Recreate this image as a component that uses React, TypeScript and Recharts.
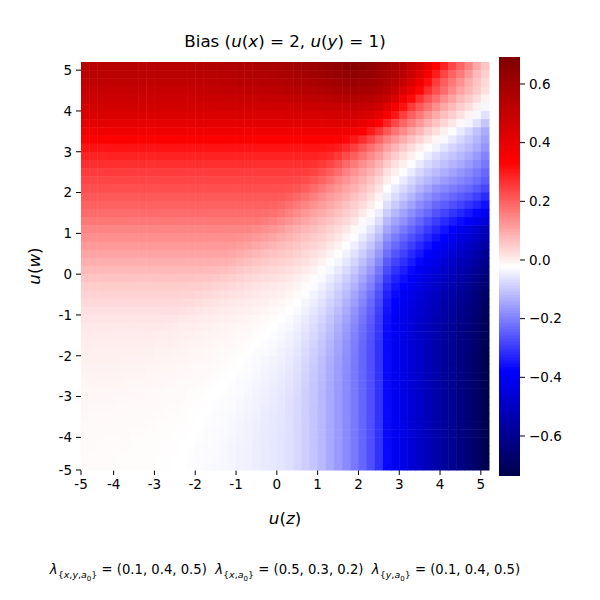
import React from 'react';
import { ScatterChart, Scatter, XAxis, YAxis } from 'recharts';

// left edges of the u(z) cells
const uZ = [
  -4.8, -4.6, -4.4, -4.2, -4.0, -3.8, -3.6, -3.4, -3.2, -3.0,
  -2.8, -2.6, -2.4, -2.2, -2.0, -1.8, -1.6, -1.4, -1.2, -1.0,
  -0.8, -0.6, -0.4, -0.2, 0.0, 0.2, 0.4, 0.6, 0.8, 1.0,
  1.2, 1.4, 1.6, 1.8, 2.0, 2.2, 2.4, 2.6, 2.8, 3.0,
  3.2, 3.4, 3.6, 3.8, 4.0, 4.2, 4.4, 4.6, 4.8, 5.0,
];
// lower edges of the u(w) cells, top row first
const uW = [
  5.0, 4.8, 4.6, 4.4, 4.2, 4.0, 3.8, 3.6, 3.4, 3.2,
  3.0, 2.8, 2.6, 2.4, 2.2, 2.0, 1.8, 1.6, 1.4, 1.2,
  1.0, 0.8, 0.6, 0.4, 0.2, 0.0, -0.2, -0.4, -0.6, -0.8,
  -1.0, -1.2, -1.4, -1.6, -1.8, -2.0, -2.2, -2.4, -2.6, -2.8,
  -3.0, -3.2, -3.4, -3.6, -3.8, -4.0, -4.2, -4.4, -4.6, -4.8,
];
const STEP = 0.2;

const axisTicks = [-4.8, -4, -3, -2, -1, 0, 1, 2, 3, 4, 5];
const axisTickLabels = ['-5', '-4', '-3', '-2', '-1', '0', '1', '2', '3', '4', '5'];
const barTicks = [0.6, 0.4, 0.2, 0, -0.2, -0.4, -0.6];
const vMin = -0.733;
const vMax = 0.692;

// bias x 1000, one row per u(w) band (row name = lower edge of band)
const w5_0 = [535,535,535,535,535,535,535,535,535,535,535,535,535,535,542,544,547,551,555,559,562,567,571,577,582,589,596,604,613,624,636,650,663,670,663,650,630,603,575,555,507,459,406,340,287,236,194,152,101,61];
const w4_8 = [525,525,525,525,525,525,525,525,525,525,525,525,525,525,531,533,536,539,543,546,549,553,557,562,567,573,579,586,595,604,615,627,639,645,639,627,609,585,561,533,484,422,361,297,242,198,164,122,77,48];
const w4_6 = [512,512,512,512,512,512,512,512,512,512,512,512,512,512,517,519,521,525,528,530,533,537,540,545,549,554,559,566,573,581,591,601,612,617,612,601,586,565,535,500,439,374,315,253,206,170,133,96,64,34];
const w4_4 = [495,495,495,495,495,495,495,495,495,495,495,495,495,495,500,501,503,506,509,511,513,516,519,523,527,531,536,541,547,554,563,572,581,585,581,572,558,531,495,444,386,328,273,225,186,146,110,82,54,25];
const w4_2 = [478,478,478,478,478,478,478,478,478,478,478,478,478,478,481,483,484,486,488,489,491,493,496,498,501,504,507,511,516,521,527,533,540,543,540,533,516,486,437,379,322,266,220,181,142,107,80,55,29,-3];
const w4_0 = [458,458,458,458,458,458,458,458,458,458,458,458,458,458,460,461,462,463,464,465,466,467,469,470,472,474,476,478,481,484,488,492,496,498,496,485,463,420,367,313,258,213,176,137,103,76,51,28,-1,-33];
const w3_8 = [437,437,437,437,437,437,437,437,437,437,437,437,437,437,438,439,439,440,441,441,442,443,444,445,446,447,448,450,452,454,456,458,461,462,454,437,403,354,303,251,205,169,132,98,71,46,24,-2,-30,-63];
const w3_6 = [410,410,410,410,410,410,410,410,410,410,410,410,410,410,411,411,411,411,412,412,412,413,413,414,414,415,415,416,417,418,419,420,421,416,402,373,332,284,236,194,159,123,91,62,38,15,-10,-35,-64,-102];
const w3_4 = [375,375,375,375,375,375,375,375,375,375,375,375,375,375,375,375,375,375,375,375,376,376,376,377,377,377,377,378,378,378,379,379,374,363,337,302,263,215,175,143,108,78,50,25,1,-24,-48,-77,-107,-136];
const w3_2 = [340,340,340,340,340,340,340,340,340,340,340,340,340,340,340,340,340,340,340,340,340,340,340,340,340,340,340,340,340,340,340,335,324,302,271,237,198,157,125,94,65,38,15,-7,-30,-54,-76,-97,-122,-153];
const w3_0 = [310,310,310,310,310,310,310,310,310,310,310,310,310,310,310,310,310,310,310,310,310,310,310,310,310,310,310,310,310,310,306,296,276,248,217,183,150,114,83,55,29,5,-17,-38,-58,-80,-98,-115,-139,-168];
const w2_8 = [288,288,288,288,288,288,288,288,288,288,288,288,288,288,288,288,288,288,288,288,288,288,288,288,288,288,288,288,288,284,275,257,232,204,173,144,116,79,51,25,1,-23,-45,-69,-89,-103,-120,-138,-163,-193];
const w2_6 = [270,270,270,270,270,270,270,270,270,270,270,270,270,270,270,270,270,270,270,270,270,270,270,270,270,270,270,270,266,258,241,218,193,165,138,115,86,51,23,1,-24,-50,-73,-92,-109,-125,-140,-159,-183,-212];
const w2_4 = [253,253,253,253,253,253,253,253,253,253,253,253,253,253,253,253,253,253,253,253,253,253,253,253,253,253,253,250,242,227,206,183,157,133,111,87,60,24,0,-25,-51,-78,-97,-117,-133,-149,-167,-185,-205,-231];
const w2_2 = [240,240,240,240,240,240,240,240,240,240,240,240,240,240,240,240,240,240,240,240,240,240,240,240,240,240,237,230,216,197,175,152,130,110,88,65,38,4,-23,-49,-76,-100,-121,-141,-159,-175,-190,-204,-225,-250];
const w2_0 = [227,227,227,227,227,227,227,227,227,227,227,227,227,227,227,227,227,227,227,227,227,227,227,227,227,224,218,205,187,168,146,126,108,88,67,45,20,-19,-48,-73,-98,-124,-147,-171,-189,-203,-217,-232,-254,-279];
const w1_8 = [213,213,213,213,213,213,213,213,213,213,213,213,213,213,213,213,213,213,213,213,213,213,213,213,210,205,193,177,159,140,121,105,87,68,47,26,-2,-44,-71,-96,-123,-153,-177,-199,-216,-233,-249,-265,-288,-317];
const w1_6 = [200,200,200,200,200,200,200,200,200,200,200,200,200,200,200,200,200,200,200,200,200,200,200,197,192,181,167,151,133,117,101,85,68,49,30,7,-25,-66,-94,-122,-152,-180,-203,-228,-247,-265,-284,-304,-327,-355];
const w1_4 = [186,186,186,186,186,186,186,186,186,186,186,186,186,186,186,186,186,186,186,186,186,186,184,179,169,156,142,125,111,97,82,67,50,32,11,-15,-45,-90,-122,-151,-179,-206,-232,-259,-282,-304,-324,-344,-369,-402];
const w1_2 = [170,170,170,170,170,170,170,170,170,170,170,170,170,170,170,170,170,170,170,170,170,168,163,154,143,130,116,102,91,77,63,48,33,13,-11,-35,-68,-119,-150,-176,-206,-235,-264,-293,-316,-339,-362,-384,-414,-451];
const w1_0 = [152,152,152,152,152,152,152,152,152,152,152,152,152,152,152,152,152,152,152,152,150,146,138,127,116,104,93,82,70,58,44,30,13,-8,-30,-57,-95,-145,-177,-206,-236,-266,-295,-324,-352,-379,-407,-436,-469,-508];
const w0_8 = [137,137,137,137,137,137,137,137,137,137,137,137,137,137,137,137,137,137,137,135,132,124,115,105,94,84,76,64,54,42,29,14,-5,-25,-50,-81,-117,-172,-205,-234,-264,-291,-321,-352,-381,-409,-436,-462,-494,-533];
const w0_6 = [122,122,122,122,122,122,122,122,122,122,122,122,122,122,122,122,122,122,120,117,111,102,93,83,75,68,59,49,39,28,13,-3,-21,-43,-71,-101,-141,-199,-232,-259,-290,-319,-350,-380,-408,-434,-460,-486,-518,-560];
const w0_4 = [107,107,107,107,107,107,107,107,107,107,107,107,107,107,107,107,107,106,103,97,89,81,72,65,59,52,44,34,25,13,-3,-18,-38,-63,-90,-122,-165,-223,-258,-287,-318,-346,-375,-404,-431,-459,-486,-514,-546,-588];
const w0_2 = [92,92,92,92,92,92,92,92,92,92,92,92,92,92,92,92,91,88,83,76,69,62,55,50,44,38,30,21,11,-2,-17,-34,-56,-81,-110,-144,-186,-251,-283,-311,-341,-369,-400,-430,-459,-486,-512,-540,-573,-610];
const w0_0 = [77,77,77,77,77,77,77,77,77,77,77,77,77,77,77,76,74,69,63,57,51,45,40,35,30,24,18,8,-3,-16,-32,-51,-72,-98,-130,-163,-210,-272,-307,-336,-366,-395,-425,-454,-481,-507,-533,-559,-591,-631];
const wm0_2 = [63,63,63,63,63,63,63,63,63,63,63,63,63,63,62,60,56,51,46,41,36,31,27,23,18,13,6,-5,-15,-29,-47,-65,-88,-116,-146,-184,-228,-297,-330,-358,-388,-416,-445,-474,-501,-526,-551,-577,-609,-649];
const wm0_4 = [51,51,51,51,51,51,51,51,51,51,51,51,51,50,49,45,41,37,32,28,24,20,16,12,8,3,-5,-15,-26,-41,-59,-79,-103,-130,-164,-199,-248,-315,-349,-376,-406,-433,-463,-491,-518,-543,-568,-593,-625,-665];
const wm0_6 = [41,41,41,41,41,41,41,41,41,41,41,41,40,39,36,33,29,25,21,18,14,11,7,4,0,-6,-14,-25,-37,-52,-70,-92,-115,-146,-178,-217,-263,-330,-364,-392,-421,-448,-478,-506,-533,-557,-582,-608,-639,-680];
const wm0_8 = [32,32,32,32,32,32,32,32,32,32,32,31,30,28,25,22,18,15,12,9,6,3,0,-4,-8,-14,-22,-34,-46,-61,-82,-102,-129,-158,-193,-230,-276,-343,-377,-404,-433,-460,-489,-518,-544,-568,-593,-618,-649,-690];
const wm1_0 = [24,24,24,24,24,24,24,24,24,24,24,23,21,18,15,12,10,7,5,2,0,-3,-7,-11,-15,-21,-29,-42,-54,-71,-91,-114,-139,-171,-205,-241,-287,-351,-385,-413,-442,-469,-498,-526,-552,-577,-601,-626,-657,-698];
const wm1_2 = [17,17,17,17,17,17,17,17,17,17,16,14,12,10,7,5,3,1,-1,-4,-6,-9,-13,-16,-21,-27,-36,-49,-62,-79,-101,-123,-150,-181,-214,-250,-294,-357,-392,-419,-448,-475,-505,-533,-559,-583,-608,-633,-664,-705];
const wm1_4 = [12,12,12,12,12,12,12,12,12,11,10,8,6,4,2,0,-2,-4,-6,-8,-10,-14,-17,-21,-26,-32,-42,-55,-69,-87,-108,-132,-159,-189,-222,-256,-299,-361,-396,-423,-452,-480,-509,-537,-564,-588,-612,-638,-669,-710];
const wm1_6 = [8,8,8,8,8,8,8,8,7,6,5,3,1,-1,-2,-4,-5,-7,-9,-12,-14,-17,-21,-25,-30,-37,-47,-61,-75,-93,-116,-140,-166,-196,-227,-261,-302,-365,-399,-427,-456,-484,-513,-542,-568,-592,-617,-642,-674,-715];
const wm1_8 = [5,5,5,5,5,5,5,4,3,2,1,-1,-2,-4,-5,-7,-8,-10,-12,-15,-17,-21,-25,-29,-34,-41,-51,-66,-80,-100,-123,-146,-172,-201,-231,-263,-305,-365,-400,-428,-458,-486,-516,-545,-572,-597,-621,-647,-678,-719];
const wm2_0 = [2,2,2,2,2,2,1,1,0,-2,-3,-4,-5,-7,-8,-9,-11,-13,-15,-17,-20,-24,-28,-32,-38,-45,-56,-71,-86,-105,-128,-151,-176,-204,-234,-266,-305,-365,-400,-428,-458,-486,-516,-545,-572,-597,-622,-648,-680,-722];
const wm2_2 = [0,0,0,0,0,-1,-1,-2,-3,-4,-5,-6,-7,-9,-10,-11,-13,-15,-17,-20,-23,-26,-31,-36,-41,-49,-59,-76,-91,-110,-132,-154,-178,-206,-236,-266,-305,-365,-400,-428,-458,-486,-516,-545,-572,-597,-622,-648,-680,-722];
const wm2_4 = [-2,-2,-2,-2,-2,-3,-4,-5,-6,-7,-8,-8,-9,-11,-12,-13,-15,-17,-19,-22,-25,-29,-34,-38,-44,-52,-63,-79,-94,-114,-135,-157,-180,-208,-236,-266,-305,-365,-400,-428,-458,-486,-516,-545,-572,-597,-622,-648,-680,-722];
const wm2_6 = [-4,-4,-4,-4,-5,-6,-6,-7,-8,-9,-9,-10,-11,-12,-14,-15,-17,-19,-21,-24,-27,-32,-36,-42,-47,-55,-66,-83,-98,-116,-137,-158,-182,-208,-236,-266,-305,-365,-400,-428,-458,-486,-516,-545,-572,-597,-622,-648,-680,-722];
const wm2_8 = [-6,-6,-6,-7,-7,-8,-9,-9,-10,-10,-11,-12,-13,-14,-15,-17,-19,-21,-23,-26,-30,-34,-39,-44,-50,-58,-69,-85,-100,-118,-139,-160,-182,-208,-236,-266,-305,-365,-400,-428,-458,-486,-516,-545,-572,-597,-622,-648,-680,-722];
const wm3_0 = [-8,-8,-9,-9,-10,-10,-11,-11,-12,-12,-13,-13,-14,-16,-17,-19,-20,-22,-25,-28,-32,-37,-41,-47,-52,-60,-71,-87,-101,-119,-140,-160,-182,-208,-236,-266,-305,-365,-400,-428,-458,-486,-516,-545,-572,-597,-622,-648,-680,-722];
const wm3_2 = [-9,-9,-10,-10,-11,-11,-12,-12,-12,-13,-14,-14,-15,-17,-18,-20,-22,-24,-27,-30,-34,-38,-43,-49,-54,-62,-73,-88,-102,-120,-140,-160,-182,-208,-236,-266,-305,-365,-400,-428,-458,-486,-516,-545,-572,-597,-622,-648,-680,-722];
const wm3_4 = [-10,-11,-11,-11,-12,-12,-13,-13,-13,-14,-15,-15,-16,-18,-19,-21,-23,-25,-28,-32,-35,-40,-45,-50,-55,-63,-74,-89,-103,-120,-140,-160,-182,-208,-236,-266,-305,-365,-400,-428,-458,-486,-516,-545,-572,-597,-622,-648,-680,-722];
const wm3_6 = [-11,-12,-12,-12,-13,-13,-13,-14,-14,-15,-15,-16,-17,-19,-20,-22,-24,-26,-30,-33,-37,-42,-47,-52,-56,-64,-74,-90,-103,-120,-140,-160,-182,-208,-236,-266,-305,-365,-400,-428,-458,-486,-516,-545,-572,-597,-622,-648,-680,-722];
const wm3_8 = [-13,-13,-13,-13,-14,-14,-14,-14,-15,-16,-16,-17,-18,-19,-21,-23,-25,-28,-31,-35,-38,-43,-48,-53,-57,-64,-75,-90,-103,-120,-140,-160,-182,-208,-236,-266,-305,-365,-400,-428,-458,-486,-516,-545,-572,-597,-622,-648,-680,-722];
const wm4_0 = [-13,-14,-14,-14,-14,-14,-15,-15,-16,-16,-17,-18,-19,-20,-22,-24,-27,-29,-32,-36,-40,-44,-49,-53,-58,-65,-75,-90,-103,-120,-140,-160,-182,-208,-236,-266,-305,-365,-400,-428,-458,-486,-516,-545,-572,-597,-622,-648,-680,-722];
const wm4_2 = [-14,-14,-15,-15,-15,-15,-16,-16,-16,-17,-18,-19,-20,-21,-23,-25,-27,-30,-33,-37,-40,-45,-49,-54,-58,-65,-75,-90,-103,-120,-140,-160,-182,-208,-236,-266,-305,-365,-400,-428,-458,-486,-516,-545,-572,-597,-622,-648,-680,-722];
const wm4_4 = [-14,-14,-15,-15,-15,-15,-16,-16,-17,-17,-18,-19,-20,-22,-24,-26,-28,-31,-34,-38,-41,-45,-50,-54,-58,-65,-75,-90,-103,-120,-140,-160,-182,-208,-236,-266,-305,-365,-400,-428,-458,-486,-516,-545,-572,-597,-622,-648,-680,-722];
const wm4_6 = [-15,-15,-15,-15,-16,-16,-16,-17,-17,-18,-19,-20,-21,-23,-24,-27,-29,-31,-35,-38,-41,-46,-50,-54,-58,-65,-75,-90,-103,-120,-140,-160,-182,-208,-236,-266,-305,-365,-400,-428,-458,-486,-516,-545,-572,-597,-622,-648,-680,-722];
const wm4_8 = [-15,-15,-15,-15,-16,-16,-17,-17,-17,-18,-19,-20,-21,-23,-25,-27,-30,-32,-35,-39,-42,-46,-50,-54,-58,-65,-75,-90,-103,-120,-140,-160,-182,-208,-236,-266,-305,-365,-400,-428,-458,-486,-516,-545,-572,-597,-622,-648,-680,-722];

const biasRows = [
  w5_0, w4_8, w4_6, w4_4, w4_2, w4_0, w3_8, w3_6, w3_4, w3_2,
  w3_0, w2_8, w2_6, w2_4, w2_2, w2_0, w1_8, w1_6, w1_4, w1_2,
  w1_0, w0_8, w0_6, w0_4, w0_2, w0_0, wm0_2, wm0_4, wm0_6, wm0_8,
  wm1_0, wm1_2, wm1_4, wm1_6, wm1_8, wm2_0, wm2_2, wm2_4, wm2_6, wm2_8,
  wm3_0, wm3_2, wm3_4, wm3_6, wm3_8, wm4_0, wm4_2, wm4_4, wm4_6, wm4_8,
];

const cells = biasRows.flatMap((row, r) =>
  row.slice(0, uZ.length).map((b, c) => ({ z: uZ[c] + STEP / 2, w: uW[r] + STEP / 2, b: b / 1000 }))
);

// plot box of the heatmap
const PLOT_LEFT = 81;
const PLOT_TOP = 62;
const PLOT_SIZE = 408;
const X_DOMAIN: [number, number] = [-4.8, 5.2];
const CELL = (PLOT_SIZE / (X_DOMAIN[1] - X_DOMAIN[0])) * STEP;

// colour bar box
const BAR_LEFT = 499;
const BAR_TOP = 57;
const BAR_W = 21;
const BAR_H = 418;
const BAR_STEP = 0.005;
const BAR_STRIP = (BAR_H / (vMax - vMin)) * BAR_STEP;
const barStrips: { x: number; y: number }[] = [];
for (let v = vMin + BAR_STEP / 2; v < vMax; v += BAR_STEP) barStrips.push({ x: 0.5, y: v });

// matplotlib "seismic"
function seismic(v: number): string {
  const t = Math.min(1, Math.max(0, (v - vMin) / (vMax - vMin)));
  let r = 0, g = 0, b = 0;
  if (t < 0.25) {
    b = 0.3 + 0.7 * (t / 0.25);
  } else if (t < 0.5) {
    const s = (t - 0.25) / 0.25;
    r = s; g = s; b = 1;
  } else if (t < 0.75) {
    const s = (t - 0.5) / 0.25;
    r = 1; g = 1 - s; b = 1 - s;
  } else {
    const s = (t - 0.75) / 0.25;
    r = 1 - 0.5 * s;
  }
  return `rgb(${Math.round(r * 255)},${Math.round(g * 255)},${Math.round(b * 255)})`;
}

const heatCell = (props: any) => {
  const { cx, cy, payload } = props;
  return (
    <rect
      x={cx - CELL / 2}
      y={cy - CELL / 2}
      width={CELL + 0.5}
      height={CELL + 0.5}
      fill={seismic(payload.b)}
    />
  );
};

const barStrip = (props: any) => {
  const { cx, cy, payload } = props;
  return (
    <rect
      x={cx - BAR_W / 2}
      y={cy - BAR_STRIP / 2 - 0.5}
      width={BAR_W}
      height={BAR_STRIP + 1}
      fill={seismic(payload.y)}
      shapeRendering="crispEdges"
    />
  );
};

const axisLabel = (v: number) => axisTickLabels[axisTicks.indexOf(v)] ?? String(v);
const barLabel = (v: number) => (Math.abs(v) < 1e-9 ? '0.0' : (v < 0 ? '\u2212' : '') + Math.abs(v).toFixed(1));

const tickStyle = { fill: '#000', fontSize: 13.5, fontFamily: 'DejaVu Sans' };

export default function App() {
  return (
    <div
      style={{
        position: 'absolute',
        left: 0,
        top: 0,
        width: 600,
        height: 600,
        background: '#fff',
        fontFamily: 'DejaVu Sans, sans-serif',
        color: '#000',
        overflow: 'hidden',
      }}
    >
      <div style={{ position: 'absolute', left: 0, top: 0 }}>
        <ScatterChart
          width={600}
          height={600}
          margin={{ top: PLOT_TOP, right: 600 - PLOT_LEFT - PLOT_SIZE, bottom: 600 - PLOT_TOP - PLOT_SIZE - 30, left: PLOT_LEFT - 50 }}
        >
          <XAxis
            type="number"
            dataKey="z"
            domain={X_DOMAIN}
            ticks={axisTicks}
            interval={0}
            tickFormatter={axisLabel}
            height={30}
            axisLine={false}
            stroke="#000"
            tickSize={5}
            tickMargin={4}
            tick={tickStyle}
          />
          <YAxis
            type="number"
            dataKey="w"
            domain={X_DOMAIN}
            ticks={axisTicks}
            interval={0}
            tickFormatter={axisLabel}
            width={50}
            axisLine={false}
            stroke="#000"
            tickSize={5}
            tickMargin={4}
            tick={tickStyle}
          />
          <Scatter data={cells} shape={heatCell} isAnimationActive={false} />
        </ScatterChart>
      </div>

      <div style={{ position: 'absolute', left: 0, top: 0 }}>
        <ScatterChart
          width={600}
          height={600}
          margin={{ top: BAR_TOP, right: 600 - BAR_LEFT - BAR_W - 50, bottom: 600 - BAR_TOP - BAR_H, left: BAR_LEFT }}
        >
          <XAxis type="number" dataKey="x" domain={[0, 1]} hide />
          <YAxis
            type="number"
            dataKey="y"
            orientation="right"
            domain={[vMin, vMax]}
            ticks={barTicks}
            interval={0}
            tickFormatter={barLabel}
            width={50}
            axisLine={false}
            stroke="#000"
            tickSize={5}
            tickMargin={4}
            tick={tickStyle}
          />
          <Scatter data={barStrips} shape={barStrip} isAnimationActive={false} />
        </ScatterChart>
      </div>

      <div style={{ position: 'absolute', left: 0, width: 570, top: 30, textAlign: 'center', fontSize: 16.7, lineHeight: '22px' }}>
        Bias (<i>u</i>(<i>x</i>) = 2, <i>u</i>(<i>y</i>) = 1)
      </div>
      <div style={{ position: 'absolute', left: 0, width: 570, top: 507, textAlign: 'center', fontSize: 16.7, lineHeight: '22px' }}>
        <i>u</i>(<i>z</i>)
      </div>
      <div
        style={{
          position: 'absolute',
          left: 34,
          top: 266,
          transform: 'translate(-50%, -50%) rotate(-90deg)',
          fontSize: 16.7,
          lineHeight: '22px',
          whiteSpace: 'nowrap',
        }}
      >
        <i>u</i>(<i>w</i>)
      </div>
      <div style={{ position: 'absolute', left: 0, width: 570, top: 560, textAlign: 'center', fontSize: 13.2, lineHeight: '20px', whiteSpace: 'pre' }}>
        <i>λ</i><sub style={{ fontSize: 9.5 }}>{'{'}<i>x</i>,<i>y</i>,<i>a</i><sub style={{ fontSize: 7 }}>0</sub>{'}'}</sub> = (0.1, 0.4, 0.5)
        {'  '}<i>λ</i><sub style={{ fontSize: 9.5 }}>{'{'}<i>x</i>,<i>a</i><sub style={{ fontSize: 7 }}>0</sub>{'}'}</sub> = (0.5, 0.3, 0.2)
        {'  '}<i>λ</i><sub style={{ fontSize: 9.5 }}>{'{'}<i>y</i>,<i>a</i><sub style={{ fontSize: 7 }}>0</sub>{'}'}</sub> = (0.1, 0.4, 0.5)
      </div>
    </div>
  );
}
